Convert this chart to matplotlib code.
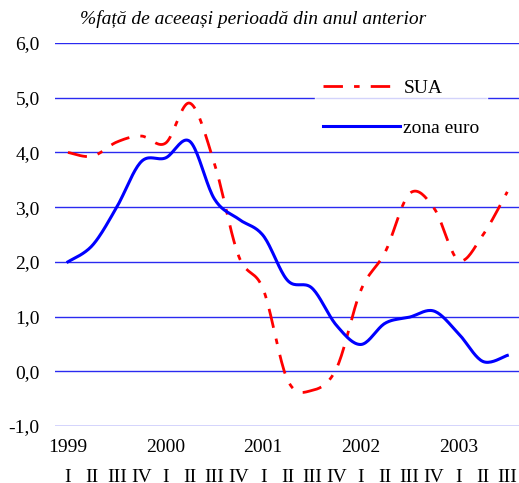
import numpy as np
import matplotlib
matplotlib.use("Agg")
import matplotlib.pyplot as plt

# quarterly values, % vs same period of previous year
quarters = ["I", "II", "III", "IV"] * 4 + ["I", "II", "III"]
years = ["1999", "2000", "2001", "2002", "2003"]
sua = [4.0, 3.93, 4.19, 4.3, 4.17, 4.9, 3.8, 2.1, 1.5, -0.16, -0.35, 0.05,
       1.48, 2.18, 3.25, 2.98, 2.03, 2.49, 3.28]
zona_euro = [2.0, 2.3, 3.0, 3.83, 3.9, 4.2, 3.15, 2.78, 2.48, 1.66, 1.52, 0.84,
             0.49, 0.88, 0.99, 1.1, 0.69, 0.18, 0.29]
yticks = [6, 5, 4, 3, 2, 1, 0, -1]


def smooth(x, y, n=20):
    # Excel-style smoothed line (bezier with 1/6 tangents)
    x = np.asarray(x, float)
    y = np.asarray(y, float)
    px = np.concatenate([[x[0]], x, [x[-1]]])
    py = np.concatenate([[y[0]], y, [y[-1]]])
    xs, ys = [], []
    t = np.linspace(0, 1, n, endpoint=False)
    for i in range(len(x) - 1):
        p0 = np.array([px[i + 1], py[i + 1]])
        p3 = np.array([px[i + 2], py[i + 2]])
        c1 = p0 + (p3 - np.array([px[i], py[i]])) / 6
        c2 = p3 - (np.array([px[i + 3], py[i + 3]]) - p0) / 6
        b = ((1 - t) ** 3)[:, None] * p0 + (3 * (1 - t) ** 2 * t)[:, None] * c1 \
            + (3 * (1 - t) * t ** 2)[:, None] * c2 + (t ** 3)[:, None] * p3
        xs.extend(b[:, 0])
        ys.extend(b[:, 1])
    xs.append(x[-1])
    ys.append(y[-1])
    return xs, ys


plt.rcParams['font.family'] = ['Liberation Serif', 'DejaVu Serif']

fig = plt.figure(figsize=(5.19, 4.83), dpi=100)
ax = fig.add_axes([55 / 519, 57 / 483, 464 / 519, 383 / 483])

for v in yticks:
    ax.axhline(v, color='#2a2af0', lw=1.0, zorder=1)

xq = np.arange(len(sua))
sx, sy = smooth(xq, sua)
ex, ey = smooth(xq, zona_euro)
ax.plot(sx, sy, color='#ff0000', lw=2.0, dashes=(7, 4, 2, 4), label='SUA', zorder=3)
ax.plot(ex, ey, color='#0000ff', lw=2.2, label='zona euro', zorder=3)

ax.set_xlim(-0.53, 18.48)
ax.set_ylim(-1, 6)
ax.set_yticks(yticks)
ax.set_yticklabels([f"{v:.1f}".replace('.', ',') for v in yticks], fontsize=14)
ax.set_xticks(xq)
ax.set_xticklabels(quarters, fontsize=14)
ax.tick_params(axis='both', length=0)
ax.tick_params(axis='y', pad=11)
ax.tick_params(axis='x', pad=31)
for s in ax.spines.values():
    s.set_visible(False)

for k, yr in enumerate(years):
    ax.annotate(yr, xy=(4 * k, 0), xycoords=('data', 'axes fraction'),
                xytext=(0, -9), textcoords='offset points',
                ha='center', va='top', fontsize=14)

fig.text(80 / 519, 1 - 19 / 483, "%față de aceeași perioadă din anul anterior",
         fontsize=14, style='italic', va='center', ha='left')

leg = ax.legend(loc='upper left', bbox_to_anchor=(0.56, 0.925), fontsize=14,
                frameon=True, fancybox=False, handlelength=4.0,
                labelspacing=1.15, borderaxespad=0, handletextpad=0.15)
leg.get_frame().set_facecolor('white')
leg.get_frame().set_edgecolor('white')
leg.set_zorder(5)

fig.savefig("out.png", dpi=100)
